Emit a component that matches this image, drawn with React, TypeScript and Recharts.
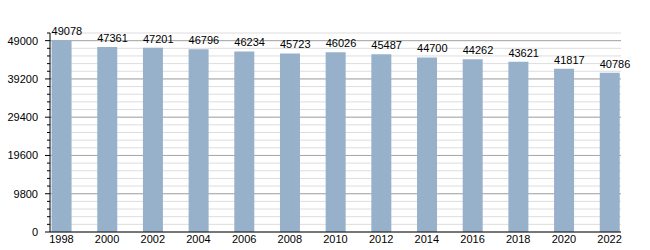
import React from "react";
import { BarChart, Bar, XAxis, YAxis, CartesianGrid, LabelList } from "recharts";

const years = [1998, 2000, 2002, 2004, 2006, 2008, 2010, 2012, 2014, 2016, 2018, 2020, 2022];
const population = [49078, 47361, 47201, 46796, 46234, 45723, 46026, 45487, 44700, 44262, 43621, 41817, 40786];
const majorTicks = [0, 9800, 19600, 29400, 39200, 49000];
const minorStep = 1960;
const yMax = 50960;

const minorTicks: number[] = [];
for (let v = 0; v <= yMax; v += minorStep) minorTicks.push(v);

const data = years.map((year, i) => ({ year, value: population[i] }));

const FONT = "'Liberation Sans', Arial, sans-serif";
const BAR_COLOR = "#98b1cb";

const YTick = (props: any) => {
  const { x, y, payload } = props;
  const major = majorTicks.includes(payload.value);
  return (
    <g>
      <line x1={x - (major ? 5 : 3)} x2={x} y1={y} y2={y} stroke="#000" strokeWidth={1} />
      {major && (
        <text x={x - 12} y={y} dy="0.35em" textAnchor="end" fontSize={11} fontFamily={FONT} fill="#000">
          {payload.value}
        </text>
      )}
    </g>
  );
};

const ValueLabel = (props: any) => {
  const { x, y, value } = props;
  return (
    <text x={x} y={y - 5} textAnchor="start" fontSize={11} fontFamily={FONT} fill="#000">
      {value}
    </text>
  );
};

export default function App() {
  return (
    <div style={{ position: "absolute", left: 0, top: 0 }}>
      <BarChart width={650} height={250} data={data} margin={{ top: 33, right: 29, bottom: 0, left: 0 }}>
        <CartesianGrid horizontalValues={minorTicks} vertical={false} stroke="#dddddd" />
        <CartesianGrid horizontalValues={majorTicks.slice(1)} vertical={false} stroke="#a8a8a8" />
        <XAxis
          dataKey="year"
          type="number"
          domain={[1997.5, 2022.5]}
          ticks={years}
          allowDataOverflow
          height={18}
          tickLine={false}
          tickSize={0}
          tickMargin={3}
          axisLine={{ stroke: "#000" }}
          tick={{ fontSize: 11, fontFamily: FONT, fill: "#000" }}
        />
        <YAxis
          type="number"
          domain={[0, yMax]}
          ticks={minorTicks}
          interval={0}
          width={50}
          tickLine={false}
          tickSize={0}
          tickMargin={0}
          axisLine={{ stroke: "#000" }}
          tick={<YTick />}
          allowDataOverflow
        />
        <Bar dataKey="value" fill={BAR_COLOR} barSize={20} isAnimationActive={false}>
          <LabelList dataKey="value" content={<ValueLabel />} />
        </Bar>
      </BarChart>
    </div>
  );
}
